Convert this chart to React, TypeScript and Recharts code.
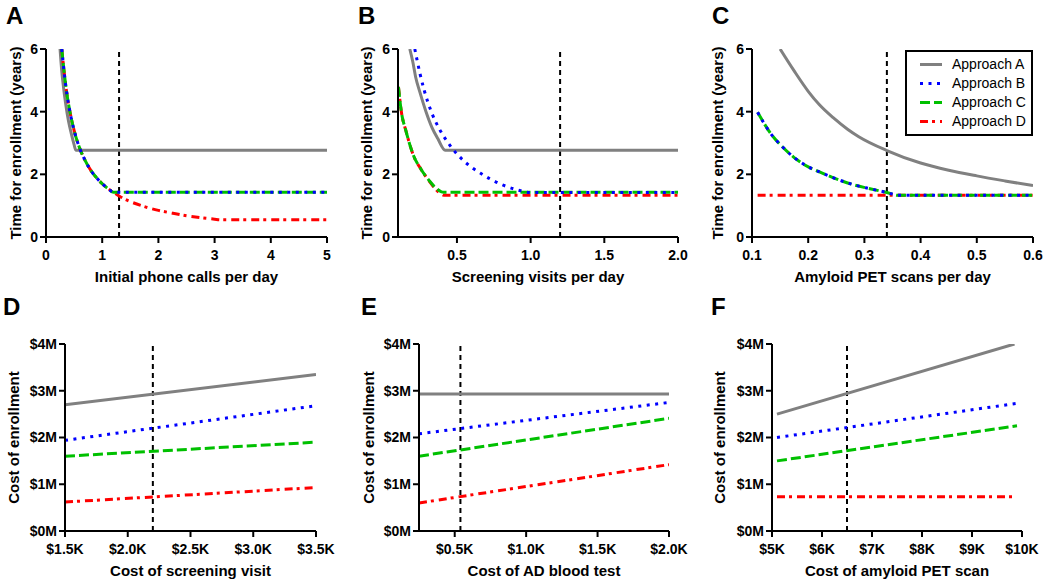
import React from 'react';
import { LineChart, Line, XAxis, YAxis, ReferenceLine, Legend, Label } from 'recharts';

const FONT = '"Liberation Sans", Arial, Helvetica, sans-serif';

// Panel A - initial phone calls per day (time in years)
const phoneGrayX = [0.25, 0.28, 0.31, 0.35, 0.4, 0.45, 0.5, 0.53, 5];
const phoneGrayY = [6.0, 5.3, 4.8, 4.25, 3.7, 3.3, 2.95, 2.77, 2.77];
const phoneBlueX = [0.28, 0.3, 0.35, 0.4, 0.45, 0.5, 0.6, 0.7, 0.8, 0.9, 1.0, 1.1, 1.2, 5];
const phoneBlueY = [6.0, 5.65, 4.85, 4.25, 3.78, 3.4, 2.83, 2.43, 2.12, 1.89, 1.7, 1.55, 1.43, 1.43];
const phoneGreenY = [6.0, 5.65, 4.85, 4.25, 3.78, 3.4, 2.83, 2.43, 2.12, 1.89, 1.7, 1.55, 1.43, 1.43];
const phoneRedX = [0.28, 0.3, 0.35, 0.4, 0.45, 0.5, 0.6, 0.7, 0.8, 0.9, 1.0, 1.1, 1.2, 1.3, 1.4, 1.5, 1.75, 2.0, 2.25, 2.5, 2.75, 3.0, 3.1, 5];
const phoneRedY = [6.0, 5.65, 4.85, 4.25, 3.78, 3.4, 2.83, 2.43, 2.12, 1.89, 1.7, 1.55, 1.43, 1.31, 1.21, 1.13, 0.97, 0.85, 0.76, 0.68, 0.62, 0.57, 0.55, 0.55];

// Panel B - screening visits per day
const screenGrayX = [0.18, 0.2, 0.22, 0.25, 0.29, 0.33, 0.37, 0.42, 2.0];
const screenGrayY = [6.0, 5.6, 5.1, 4.6, 4.0, 3.5, 3.14, 2.77, 2.77];
const screenBlueX = [0.214, 0.25, 0.278, 0.33, 0.384, 0.445, 0.52, 0.6, 0.658, 0.73, 0.806, 0.912, 1.0, 2.0];
const screenBlueY = [6.0, 5.2, 4.68, 3.95, 3.42, 2.97, 2.55, 2.22, 2.04, 1.84, 1.67, 1.5, 1.42, 1.42];
const screenGreenX = [0.103, 0.123, 0.153, 0.18, 0.205, 0.255, 0.312, 0.36, 0.391, 0.41, 2.0];
const screenGreenY = [4.79, 3.99, 3.4, 2.95, 2.6, 2.17, 1.8, 1.55, 1.45, 1.43, 1.43];
const screenRedX = [0.103, 0.123, 0.153, 0.18, 0.205, 0.255, 0.312, 0.36, 0.39, 0.41, 2.0];
const screenRedY = [4.79, 3.99, 3.4, 2.95, 2.6, 2.17, 1.78, 1.5, 1.38, 1.33, 1.33];

// Panel C - amyloid PET scans per day
const petGrayX = [0.15, 0.175, 0.2, 0.22, 0.245, 0.27, 0.29, 0.34, 0.4, 0.45, 0.5, 0.55, 0.6];
const petGrayY = [6.0, 5.3, 4.65, 4.22, 3.8, 3.44, 3.2, 2.76, 2.36, 2.13, 1.95, 1.79, 1.64];
const petBlueX = [0.11, 0.135, 0.154, 0.174, 0.194, 0.221, 0.245, 0.284, 0.31, 0.34, 0.36, 0.6];
const petBlueY = [3.98, 3.26, 2.88, 2.55, 2.3, 2.07, 1.89, 1.65, 1.54, 1.42, 1.33, 1.33];
const petRedX = [0.11, 0.6];
const petRedY = [1.33, 1.33];

// Panel D - cost of screening visit ($K) vs cost ($M)
const visitX = [1.5, 3.5];
const visitGray = [2.7, 3.35];
const visitBlue = [1.94, 2.68];
const visitGreen = [1.6, 1.9];
const visitRed = [0.62, 0.93];

// Panel E - cost of AD blood test
const bloodX = [0.25, 2.0];
const bloodGray = [2.93, 2.93];
const bloodBlue = [2.08, 2.75];
const bloodGreen = [1.6, 2.41];
const bloodRed = [0.6, 1.42];

// Panel F - cost of amyloid PET scan
const scanGrayX = [5.1, 9.85];
const scanX = [5.1, 9.9];
const scanGray = [2.5, 4.0];
const scanBlue = [2.0, 2.73];
const scanGreen = [1.5, 2.25];
const scanRed = [0.73, 0.73];

// dashed reference values (A..F)
const refValues = [1.3, 1.2, 0.34, 2.2, 0.54, 6.5];

const timeTicks = [0, 2, 4, 6];
const costTicks = [0, 1, 2, 3, 4];

const STYLES: Record<string, { name: string; color: string; dash?: string }> = {
  A: { name: 'Approach A', color: '#808080' },
  B: { name: 'Approach B', color: '#0000ff', dash: '3 5.5' },
  C: { name: 'Approach C', color: '#00c000', dash: '10 4' },
  D: { name: 'Approach D', color: '#ff0000', dash: '8 4 3 5' },
};
const LEGEND_ORDER = ['A', 'B', 'C', 'D'];
const DRAW_ORDER = ['A', 'D', 'C', 'B'];

const pts = (xs: number[], ys: number[]) => xs.map((x, i) => ({ x, y: ys[i] }));

const tickStyle = { fill: '#000', fontSize: 14, fontWeight: 700, fontFamily: FONT };
const titleProps = { fill: '#000', fontSize: 15, fontWeight: 700, fontFamily: FONT };
const axisStroke = { stroke: '#000', strokeWidth: 2 };

const fmt1 = (v: number) => v.toFixed(1);
const fmtK1 = (v: number) => `$${v.toFixed(1)}K`;
const fmtK0 = (v: number) => `$${v}K`;
const fmtM = (v: number) => `$${v}M`;

type PanelCfg = {
  letter: string;
  left: number;
  top: number;
  margin: { top: number; right: number; bottom: number; left: number };
  yWidth: number;
  yTitleDx: number;
  letterX: number;
  letterY: number;
  xDomain: [number, number];
  xTicks: number[];
  xFmt: (v: number) => string;
  xTitle: string;
  yDomain: [number, number];
  yTicks: number[];
  yFmt?: (v: number) => string;
  yTitle: string;
  refX: number;
  series: Record<string, { x: number; y: number }[]>;
  legend?: boolean;
};

const LegendBox = () => (
  <div
    style={{
      width: 128,
      height: 86,
      border: '2px solid #000',
      boxSizing: 'border-box',
      background: '#fff',
      paddingTop: 3,
    }}
  >
    {LEGEND_ORDER.map((k) => (
      <div key={k} style={{ display: 'flex', alignItems: 'center', height: 19 }}>
        <svg width={45} height={19}>
          <line
            x1={13}
            x2={35}
            y1={9.5}
            y2={9.5}
            stroke={STYLES[k].color}
            strokeWidth={3}
            strokeDasharray={STYLES[k].dash}
          />
        </svg>
        <span style={{ fontSize: 14, fontFamily: FONT, color: '#000', lineHeight: '19px' }}>
          {STYLES[k].name}
        </span>
      </div>
    ))}
  </div>
);

const Panel = ({ cfg }: { cfg: PanelCfg }) => (
  <div style={{ position: 'absolute', left: cfg.left, top: cfg.top, width: 350, height: 293 }}>
    <LineChart width={350} height={293} margin={cfg.margin}>
      <XAxis
        type="number"
        dataKey="x"
        domain={cfg.xDomain}
        ticks={cfg.xTicks}
        tickFormatter={cfg.xFmt}
        height={50}
        tick={tickStyle}
        tickSize={6}
        tickMargin={7}
        axisLine={axisStroke}
        tickLine={axisStroke}
        allowDataOverflow
      >
        <Label value={cfg.xTitle} position="insideBottom" offset={5} {...titleProps} />
      </XAxis>
      <YAxis
        type="number"
        domain={cfg.yDomain}
        ticks={cfg.yTicks}
        tickFormatter={cfg.yFmt}
        width={cfg.yWidth}
        tick={tickStyle}
        tickSize={6}
        tickMargin={2}
        axisLine={axisStroke}
        tickLine={axisStroke}
        allowDataOverflow
      >
        <Label value={cfg.yTitle} angle={-90} position="center" dx={cfg.yTitleDx} {...titleProps} />
      </YAxis>
      <ReferenceLine x={cfg.refX} stroke="#000" strokeWidth={2} strokeDasharray="5 4" />
      {DRAW_ORDER.map((k) => (
        <Line
          key={k}
          data={cfg.series[k]}
          dataKey="y"
          name={STYLES[k].name}
          type="monotone"
          stroke={STYLES[k].color}
          strokeWidth={3}
          strokeDasharray={STYLES[k].dash}
          dot={false}
          activeDot={false}
          isAnimationActive={false}
        />
      ))}
      {cfg.legend && (
        <Legend
          layout="vertical"
          align="center"
          verticalAlign="middle"
          content={() => <LegendBox />}
          wrapperStyle={{ left: 205, top: 50, width: 128, height: 86, margin: 0 }}
        />
      )}
    </LineChart>
    <div
      style={{
        position: 'absolute',
        left: cfg.letterX,
        top: cfg.letterY,
        fontSize: 24,
        fontWeight: 700,
        fontFamily: FONT,
        lineHeight: '24px',
        color: '#000',
      }}
    >
      {cfg.letter}
    </div>
  </div>
);

const timeTitle = 'Time for enrollment (years)';
const costTitle = 'Cost of enrollment';

const PANELS: PanelCfg[] = [
  {
    letter: 'A', left: 0, top: 0,
    margin: { top: 49, right: 23, bottom: 6, left: 0 }, yWidth: 46, yTitleDx: -7, letterX: 6, letterY: 4,
    xDomain: [0, 5], xTicks: [0, 1, 2, 3, 4, 5], xFmt: (v) => String(v), xTitle: 'Initial phone calls per day',
    yDomain: [0, 6], yTicks: timeTicks, yTitle: timeTitle, refX: refValues[0],
    series: {
      A: pts(phoneGrayX, phoneGrayY),
      B: pts(phoneBlueX, phoneBlueY),
      C: pts(phoneBlueX, phoneGreenY),
      D: pts(phoneRedX, phoneRedY),
    },
  },
  {
    letter: 'B', left: 350, top: 0,
    margin: { top: 49, right: 22, bottom: 6, left: 0 }, yWidth: 48, yTitleDx: -7, letterX: 8, letterY: 4,
    xDomain: [0.1, 2], xTicks: [0.5, 1, 1.5, 2], xFmt: fmt1, xTitle: 'Screening visits per day',
    yDomain: [0, 6], yTicks: timeTicks, yTitle: timeTitle, refX: refValues[1],
    series: {
      A: pts(screenGrayX, screenGrayY),
      B: pts(screenBlueX, screenBlueY),
      C: pts(screenGreenX, screenGreenY),
      D: pts(screenRedX, screenRedY),
    },
  },
  {
    letter: 'C', left: 700, top: 0,
    margin: { top: 49, right: 17, bottom: 6, left: 0 }, yWidth: 52, yTitleDx: -8, letterX: 12, letterY: 4,
    xDomain: [0.1, 0.6], xTicks: [0.1, 0.2, 0.3, 0.4, 0.5, 0.6], xFmt: fmt1, xTitle: 'Amyloid PET scans per day',
    yDomain: [0, 6], yTicks: timeTicks, yTitle: timeTitle, refX: refValues[2],
    series: {
      A: pts(petGrayX, petGrayY),
      B: pts(petBlueX, petBlueY),
      C: pts(petBlueX, petBlueY),
      D: pts(petRedX, petRedY),
    },
    legend: true,
  },
  {
    letter: 'D', left: 0, top: 293,
    margin: { top: 51, right: 34, bottom: 5, left: 0 }, yWidth: 65, yTitleDx: -19, letterX: 3, letterY: 2,
    xDomain: [1.5, 3.5], xTicks: [1.5, 2, 2.5, 3, 3.5], xFmt: fmtK1, xTitle: 'Cost of screening visit',
    yDomain: [0, 4], yTicks: costTicks, yFmt: fmtM, yTitle: costTitle, refX: refValues[3],
    series: {
      A: pts(visitX, visitGray),
      B: pts(visitX, visitBlue),
      C: pts(visitX, visitGreen),
      D: pts(visitX, visitRed),
    },
  },
  {
    letter: 'E', left: 350, top: 293,
    margin: { top: 51, right: 31, bottom: 5, left: 0 }, yWidth: 69, yTitleDx: -16, letterX: 11, letterY: 2,
    xDomain: [0.25, 2], xTicks: [0.5, 1, 1.5, 2], xFmt: fmtK1, xTitle: 'Cost of AD blood test',
    yDomain: [0, 4], yTicks: costTicks, yFmt: fmtM, yTitle: costTitle, refX: refValues[4],
    series: {
      A: pts(bloodX, bloodGray),
      B: pts(bloodX, bloodBlue),
      C: pts(bloodX, bloodGreen),
      D: pts(bloodX, bloodRed),
    },
  },
  {
    letter: 'F', left: 700, top: 293,
    margin: { top: 51, right: 28, bottom: 5, left: 0 }, yWidth: 72, yTitleDx: -16, letterX: 11, letterY: 2,
    xDomain: [5, 10], xTicks: [5, 6, 7, 8, 9, 10], xFmt: fmtK0, xTitle: 'Cost of amyloid PET scan',
    yDomain: [0, 4], yTicks: costTicks, yFmt: fmtM, yTitle: costTitle, refX: refValues[5],
    series: {
      A: pts(scanGrayX, scanGray),
      B: pts(scanX, scanBlue),
      C: pts(scanX, scanGreen),
      D: pts(scanX, scanRed),
    },
  },
];

export default function App() {
  return (
    <div style={{ position: 'absolute', left: 0, top: 0, width: 1050, height: 586, background: '#fff' }}>
      {PANELS.map((p) => (
        <Panel key={p.letter} cfg={p} />
      ))}
    </div>
  );
}
